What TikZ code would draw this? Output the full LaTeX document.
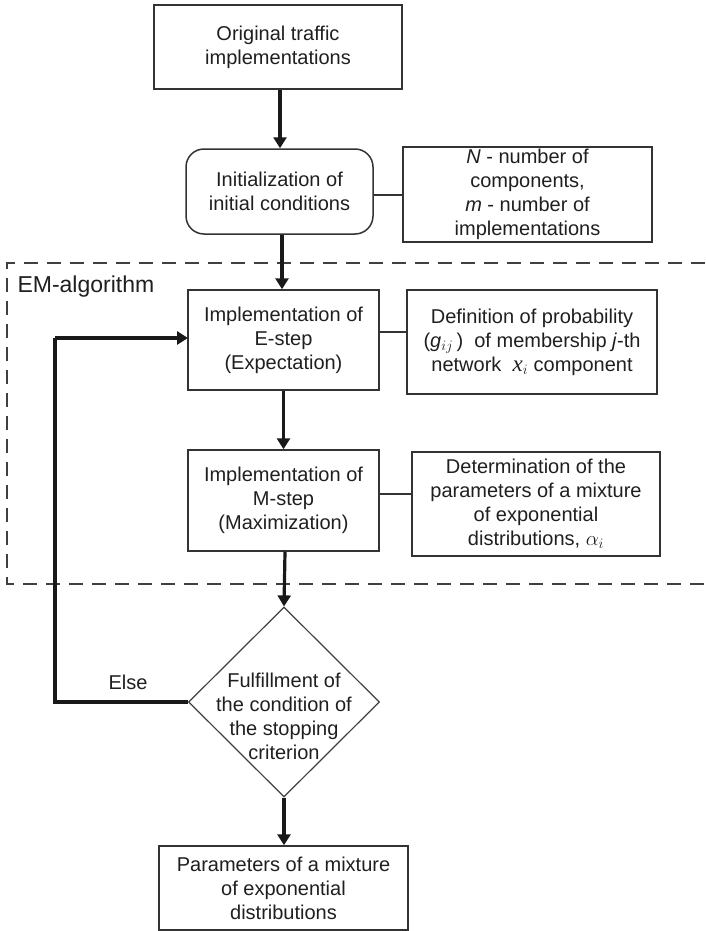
\documentclass[tikz,border=0pt]{standalone}
\usepackage{fontspec}
\setmainfont{Liberation Sans}
\newfontfamily\serifit{Liberation Serif}
\usetikzlibrary{arrows.meta,shapes.geometric}
\begin{document}
\begin{tikzpicture}[x=1pt,y=-1pt,
  every node/.style={font=\fontsize{20}{24}\selectfont, text=black!88},
  box/.style={draw=black!80, line width=1.5pt, inner sep=0pt, align=center},
  flow/.style={line width=3.2pt, draw=black!90, -{Triangle[length=11pt,width=13pt]}},
  link/.style={line width=1.4pt, draw=black!80},
  loopline/.style={line width=3.2pt, draw=black!90}]
\useasboundingbox (0,0) rectangle (705,931);
% dashed frame
\draw[black!75, line width=1.6pt, dash pattern=on 14pt off 9pt]
  (705,263) -- (7,263) -- (7,584) -- (705,584);
\node[anchor=base west, font=\fontsize{23}{27}\selectfont] (em) at (14,292) {EM-algorithm};
% nodes
\node[box, minimum width=248pt, minimum height=84pt] (orig) at (278,47)
  {Original traffic\\implementations};
\node[box, rounded corners=18pt, minimum width=187pt, minimum height=85pt] (init) at (279.5,191.5)
  {Initialization of\\initial conditions};
\node[box, minimum width=249pt, minimum height=95pt] (nbox) at (527.5,194.5)
  {\textit{N} - number of\\components,\\\textit{m} - number of\\implementations};
\node[box, minimum width=191pt, minimum height=100pt] (estep) at (283.5,340)
  {Implementation of\\E-step\\(Expectation)};
\node[box, minimum width=250pt, minimum height=104pt] (defn) at (532,342)
  {Definition of probability\\(\textit{g}$_{ij}$\,)\ \ of membership \textit{j}-th\\network\ \ {\serifit\itshape\fontsize{23}{24}\selectfont x}$_i$\ component};
\node[box, minimum width=191pt, minimum height=101pt] (mstep) at (283.5,500.5)
  {Implementation of\\M-step\\(Maximization)};
\node[box, minimum width=248pt, minimum height=104pt] (detm) at (536,504)
  {Determination of the\\parameters of a mixture\\of exponential\\distributions, $\alpha_i$};
\node[draw=black!75, line width=1.2pt, shape=diamond, inner sep=0pt,
  minimum width=191pt, minimum height=190pt] (dia) at (284,702) {};
\node[align=center] (dtext) at (284,716)
  {Fulfillment of\\the condition of\\the stopping\\criterion};
\node[box, minimum width=249pt, minimum height=84pt] (final) at (283.5,888)
  {Parameters of a mixture\\of exponential\\distributions};
\node (else) at (128,682) {Else};
\coordinate (lb) at (55,702);
\coordinate (lt) at (55,338);
\coordinate (ein) at (188,338);
% connectors
\draw[flow] (orig.south -| 280,0) -- (init.north -| 280,0);
\draw[flow] (init.south -| 282,0) -- (estep.north -| 282,0);
\draw[flow] (estep.south) -- (mstep.north);
\draw[flow] (mstep.south -| 285,0) -- (dia.north);
\draw[flow] (dia.south) -- (final.north -| 284,0);
\draw[loopline] (dia.west) -- (lb) -- (lt);
\draw[flow] (lt) -- (ein);
\draw[link] (init.east |- 0,195) -- (nbox.west |- 0,195);
\draw[link] (estep.east |- 0,332) -- (defn.west |- 0,332);
\draw[link] (mstep.east |- 0,494) -- (detm.west |- 0,494);
\end{tikzpicture}
\end{document}
